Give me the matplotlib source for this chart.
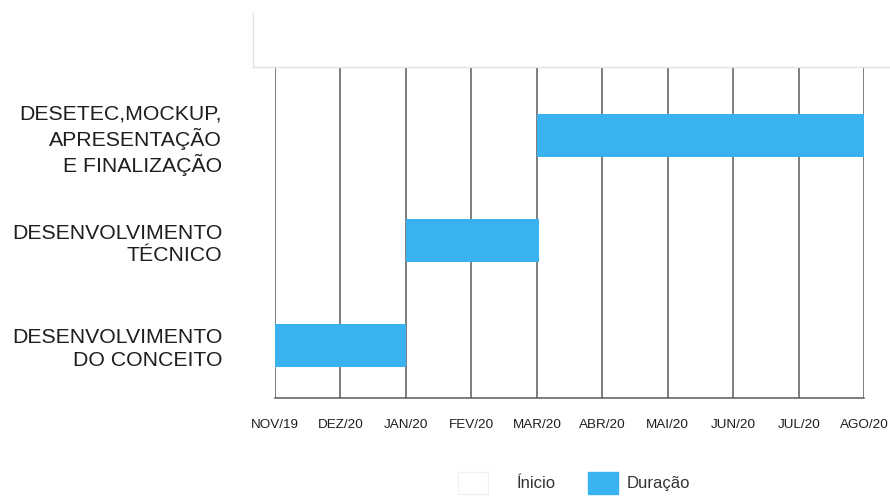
import matplotlib.pyplot as plt
from matplotlib.patches import Patch
from matplotlib.lines import Line2D

# Cronograma (meses a partir de NOV/19)
tarefas = ["DESENVOLVIMENTO\nDO CONCEITO",
           "DESENVOLVIMENTO\nTÉCNICO",
           "DESETEC,MOCKUP,\nAPRESENTAÇÃO\nE FINALIZAÇÃO"]
inicio = [0, 2, 4]
duracao = [2, 2.03, 5]
meses = ["NOV/19", "DEZ/20", "JAN/20", "FEV/20", "MAR/20",
         "ABR/20", "MAI/20", "JUN/20", "JUL/20", "AGO/20"]

azul = "#38b3ef"
plt.rcParams["font.family"] = ["Liberation Sans", "DejaVu Sans"]

fig = plt.figure(figsize=(8.9, 4.96), dpi=100)
ax = fig.add_axes([0.309, 0.1976, 0.662, 0.667])

y = list(range(len(tarefas)))
# serie "Ínicio" fica invisivel, so empurra a barra de duracao
ax.barh(y, inicio, height=0.41, color="white", zorder=0.1)
ax.barh(y, duracao, left=inicio, height=0.41, color=azul, zorder=2)

ax.set_xlim(0, len(meses) - 1)
ax.set_ylim(-0.504, 2.656)
ax.set_xticks(range(len(meses)))
ax.set_xticklabels(meses, fontsize=9.7, color="#1e1e1e")
ax.set_yticks(y)
ax.set_yticklabels(tarefas, fontsize=15.3, color="#1e1e1e", linespacing=1.25)
ax.tick_params(axis="both", length=0)
ax.tick_params(axis="x", pad=15)
ax.tick_params(axis="y", pad=38)

ax.grid(axis="x", color="#5a5a5a", linewidth=1.1)
ax.set_axisbelow(True)
for s in ["top", "left", "right"]:
    ax.spines[s].set_visible(False)
ax.spines["bottom"].set_color("#5a5a5a")
ax.spines["bottom"].set_linewidth(1.1)

# moldura clara no topo
fig.add_artist(Line2D([253 / 890, 1.0], [1 - 67 / 496] * 2,
                      color="#e2e2e2", lw=1.0))
fig.add_artist(Line2D([253 / 890] * 2, [1 - 13 / 496, 1 - 67 / 496],
                      color="#e2e2e2", lw=1.0))

# legenda em duas partes (espacamentos diferentes)
leg_kw = dict(loc="center left", ncol=1, frameon=False, fontsize=12,
              handlelength=1.8, handleheight=1.68, borderpad=0,
              borderaxespad=0, labelcolor="#333333")
leg1 = fig.legend([Patch(facecolor="white", edgecolor="#f0f0f0", linewidth=0.8)],
                  ["Ínicio"], bbox_to_anchor=(458 / 890, 1 - 483 / 496),
                  handletextpad=1.75, **leg_kw)
fig.legend([Patch(facecolor=azul, edgecolor=azul)], ["Duração"],
           bbox_to_anchor=(588 / 890, 1 - 483 / 496),
           handletextpad=0.52, **leg_kw)

fig.savefig("out.png", dpi=100)
